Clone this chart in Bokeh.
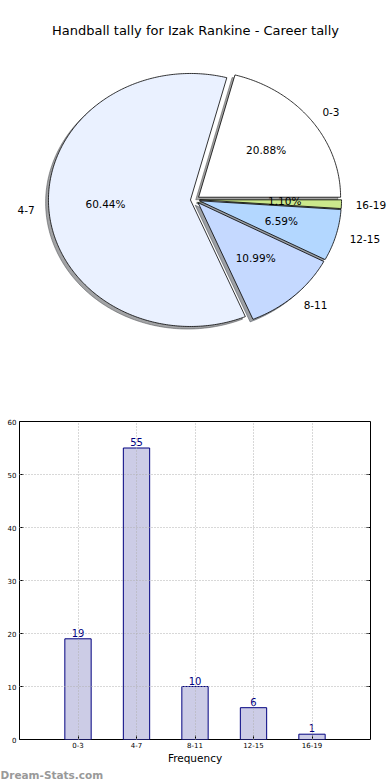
import numpy as np
from bokeh.plotting import figure
from bokeh.models import Range1d, FixedTicker, Label, Title
from bokeh.embed import file_html
from bokeh.resources import INLINE
from bokeh.core.properties import value

# ---------------- data ----------------
title_text = "Handball tally for Izak Rankine - Career tally"
categories = ["0-3", "4-7", "8-11", "12-15", "16-19"]
counts = [19, 55, 10, 6, 1]
pie_colors = ["#ffffff", "#eaf1ff", "#c5d9ff", "#b3d7ff", "#cbe88c"]
y_ticks = [0, 10, 20, 30, 40, 50, 60]
x_axis_label = "Frequency"
watermark = "Dream-Stats.com"

FONT = "DejaVu Sans"

# ---------------- pie figure ----------------
PW, PH = 390, 398
cx, cy = 194.5, 199.2          # pie centre in figure pixels (from top-left)
rx, ry = 142.0, 126.5          # pixels per data unit (matplotlib non-equal axes)
explode = 0.032
shadow_off = 0.02

p = figure(width=PW, height=PH, output_backend="svg", toolbar_location=None,
           x_axis_type=None, y_axis_type=None, min_border=0,
           x_range=Range1d(-cx / rx, (PW - cx) / rx),
           y_range=Range1d(-(PH - cy) / ry, cy / ry))
p.outline_line_color = None
p.grid.visible = False

total = float(sum(counts))
fracs = [c / total for c in counts]
starts = np.concatenate([[0.0], np.cumsum(fracs)[:-1]]) * 2 * np.pi
ends = np.cumsum(fracs) * 2 * np.pi

wx, wy, sx, sy, scol, mids = [], [], [], [], [], []
for a0, a1, col in zip(starts, ends, pie_colors):
    mid = 0.5 * (a0 + a1)
    mids.append(mid)
    ox, oy = explode * np.cos(mid), explode * np.sin(mid)
    t = np.linspace(a0, a1, max(int((a1 - a0) * 80), 6))
    xs = np.concatenate([[ox], ox + np.cos(t)])
    ys = np.concatenate([[oy], oy + np.sin(t)])
    wx.append(list(xs)); wy.append(list(ys))
    sx.append(list(xs - shadow_off)); sy.append(list(ys - shadow_off))
    r, g, b_ = int(col[1:3], 16), int(col[3:5], 16), int(col[5:7], 16)
    scol.append("#%02x%02x%02x" % (int(0.3 * r), int(0.3 * g), int(0.3 * b_)))

p.patches(xs=sx, ys=sy, fill_color=scol, fill_alpha=0.5, line_color=scol, line_alpha=0.5)
p.patches(xs=wx, ys=wy, fill_color=pie_colors, line_color="black", line_width=0.8)

# category labels (labeldistance 1.1) and percentages (pctdistance 0.6)
lx_l, ly_l, lt_l, lx_r, ly_r, lt_r = [], [], [], [], [], []
px, py, pt = [], [], []
for mid, cat, f in zip(mids, categories, fracs):
    ox, oy = explode * np.cos(mid), explode * np.sin(mid)
    x = ox + 1.1 * np.cos(mid); y = oy + 1.1 * np.sin(mid)
    if x > 0:
        lx_l.append(x); ly_l.append(y); lt_l.append(cat)
    else:
        lx_r.append(x); ly_r.append(y); lt_r.append(cat)
    px.append(ox + 0.6 * np.cos(mid)); py.append(oy + 0.6 * np.sin(mid))
    pt.append("%.2f%%" % (100 * f))

p.text(x=lx_l, y=ly_l, text=lt_l, text_align="left", text_baseline="middle",
       text_font=value(FONT), text_font_size="10.5px", text_color="black")
p.text(x=lx_r, y=ly_r, text=lt_r, text_align="right", text_baseline="middle",
       text_font=value(FONT), text_font_size="10.5px", text_color="black")
p.text(x=px, y=py, text=pt, text_align="center", text_baseline="middle",
       y_offset=-1, text_font=value(FONT), text_font_size="10.5px", text_color="black")

p.add_layout(Label(x=(195 - cx) / rx, y=(cy - 30) / ry, text=title_text,
                   text_align="center", text_baseline="middle",
                   text_font=FONT, text_font_size="13px", text_color="black"))

# ---------------- bar figure ----------------
bx = list(range(len(categories)))
b = figure(width=390, height=382, output_backend="svg", toolbar_location=None,
           x_range=Range1d(-1, 5), y_range=Range1d(0, 60),
           min_border_top=23, min_border_left=19, min_border_right=20, min_border_bottom=40)
b.vbar(x=bx, top=counts, width=0.45, fill_color="#ccccE6", line_color="#000080", line_width=1)
b.text(x=bx, y=counts, text=[str(c) for c in counts], text_align="center",
       text_baseline="bottom", y_offset=-2, text_font=value(FONT),
       text_font_size="10px", text_color="#000080")

# inward ticks on the right edge
tick_len = 4 / 58.5
b.segment(x0=[5] * len(y_ticks), y0=y_ticks, x1=[5 - tick_len] * len(y_ticks), y1=y_ticks,
          line_color="black", line_width=1)

b.outline_line_color = "black"
b.outline_line_width = 1
b.outline_line_alpha = 1

b.xaxis.ticker = FixedTicker(ticks=bx)
b.xaxis.major_label_overrides = {i: c for i, c in enumerate(categories)}
b.yaxis.ticker = FixedTicker(ticks=y_ticks)
for ax in (b.xaxis[0], b.yaxis[0]):
    ax.axis_line_color = None
    ax.major_tick_in = 4
    ax.major_tick_out = 0
    ax.minor_tick_line_color = None
    ax.major_label_text_font = FONT
    ax.major_label_text_font_size = "7px"
    ax.major_label_text_color = "black"
b.xaxis.major_label_standoff = 2
b.yaxis.major_label_standoff = 3
b.xaxis.axis_label = x_axis_label
b.xaxis.axis_label_text_font = FONT
b.xaxis.axis_label_text_font_size = "10.5px"
b.xaxis.axis_label_text_font_style = "normal"
b.xaxis.axis_label_text_color = "black"
b.xaxis.axis_label_standoff = 1
b.xaxis.axis_label_text_line_height = 1.0

b.xgrid.ticker = FixedTicker(ticks=bx)
b.ygrid.ticker = FixedTicker(ticks=y_ticks)
for g in (b.xgrid[0], b.ygrid[0]):
    g.grid_line_color = "#b0b0b0"
    g.grid_line_dash = "1 2"
    g.grid_line_width = 1
    g.level = "annotation"

b.add_layout(Title(text=watermark, align="left", offset=-19, standoff=0,
                   text_font=FONT, text_font_size="10.5px", text_font_style="bold",
                   text_line_height=1.0, text_color="#999999"), "below")

open("out.html", "w").write(file_html([p, b], INLINE))
